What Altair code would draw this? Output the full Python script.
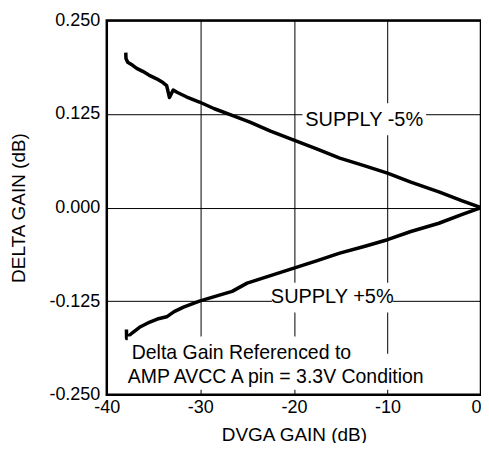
import altair as alt
import pandas as pd

# SUPPLY -5% trace (upper)
minus5_x = [-37.97, -37.95, -37.76, -37.5, -37.23, -36.8, -36.16, -35.5, -34.67, -34.0, -33.6,
            -33.3, -33.1, -32.9, -32.5, -31.5, -30.1, -28.5, -26.6, -24.7, -22.5, -20.0,
            -17.5, -15.1, -12.5, -10.0, -7.5, -4.5, -2.0, 0.0]
minus5_y = [0.207, 0.199, 0.194, 0.192, 0.190, 0.186, 0.182, 0.177, 0.172, 0.167, 0.163,
            0.147, 0.152, 0.157, 0.154, 0.148, 0.141, 0.132, 0.123, 0.114, 0.102, 0.090,
            0.078, 0.066, 0.056, 0.046, 0.034, 0.021, 0.009, 0.0]

# SUPPLY +5% trace (lower)
plus5_x = [-37.9, -37.88, -37.6, -37.23, -36.5, -35.4, -34.6, -33.6, -32.8, -31.8, -30.1,
           -28.5, -26.6, -25.0, -22.5, -20.0, -17.5, -15.1, -12.5, -10.0, -7.5, -4.5, -2.0, 0.0]
plus5_y = [-0.163, -0.175, -0.171, -0.167, -0.160, -0.153, -0.149, -0.146, -0.139, -0.133, -0.125,
           -0.119, -0.112, -0.101, -0.091, -0.081, -0.071, -0.061, -0.052, -0.043, -0.032, -0.021, -0.009, 0.0]

x_ticks = [-40, -30, -20, -10, 0]
y_ticks = [-0.25, -0.125, 0.0, 0.125, 0.25]

supply_labels = ["SUPPLY -5%", "SUPPLY +5%"]
supply_x = [-12.48, -15.9]
supply_y = [0.1167, -0.119]

note_lines = ["Delta Gain Referenced to", "AMP AVCC A pin = 3.3V Condition"]
note_x = [-37.33, -37.76]
note_y = [-0.195, -0.226]

FONT = "Arial, Liberation Sans, Helvetica, sans-serif"

rows = []
for i, (xv, yv) in enumerate(zip(minus5_x, minus5_y)):
    rows.append({"series": "minus5", "i": i, "gain": xv, "delta": yv})
for i, (xv, yv) in enumerate(zip(plus5_x, plus5_y)):
    rows.append({"series": "plus5", "i": i, "gain": xv, "delta": yv})
df = pd.DataFrame(rows)

lab_df = pd.DataFrame({"text": supply_labels, "x": supply_x, "y": supply_y})
note_df = pd.DataFrame({"text": note_lines, "x": note_x, "y": note_y})

xs = alt.Scale(domain=[-40, 0], nice=False, zero=False, padding=0)
ys = alt.Scale(domain=[-0.25, 0.25], nice=False, zero=False, padding=0)

x_axis = alt.Axis(values=x_ticks, format="d", labelExpr="replace(datum.label, '\u2212', '-')",
                  title="DVGA GAIN (dB)", grid=True, domain=False, ticks=False,
                  labelFlush=False, labelPadding=4, labelFontSize=18, titleFontSize=19,
                  labelAlign={"expr": "datum.value == 0 ? 'right' : 'center'"},
                  titleY=46, titleBaseline="alphabetic")
y_axis = alt.Axis(values=y_ticks, format=".3f", labelExpr="replace(datum.label, '\u2212', '-')",
                  title="DELTA GAIN (dB)", grid=True, domain=False, ticks=False,
                  labelFlush=False, labelPadding=7, labelFontSize=18, titleFontSize=19,
                  titleX=-82, titleY=187.5, titleBaseline="alphabetic")

lines = alt.Chart(df).mark_line(color="black", strokeWidth=3.5, strokeJoin="round").encode(
    x=alt.X("gain:Q", scale=xs, axis=x_axis),
    y=alt.Y("delta:Q", scale=ys, axis=y_axis),
    detail="series:N",
    order="i:Q",
)

def box(d, w, h, xo=0, yo=0):
    return alt.Chart(d).mark_rect(color="white", width=w, height=h, xOffset=xo, yOffset=yo).encode(
        x=alt.X("x:Q", scale=xs), y=alt.Y("y:Q", scale=ys))

box1 = box(lab_df.iloc[[0]], 124, 32, 0, -1)
box2 = box(lab_df.iloc[[1]], 121, 30, 0, 1)
box3 = box(note_df.iloc[[0]], 224, 28, 108, -3)
box4 = box(note_df.iloc[[1]], 306, 36, 150, -5)

lab_text = alt.Chart(lab_df).mark_text(fontSize=20, font=FONT, color="black",
                                       align="center", baseline="middle").encode(
    x=alt.X("x:Q", scale=xs), y=alt.Y("y:Q", scale=ys), text="text:N")
note_text = alt.Chart(note_df).mark_text(fontSize=19.5, font=FONT, color="black",
                                         align="left", baseline="middle").encode(
    x=alt.X("x:Q", scale=xs), y=alt.Y("y:Q", scale=ys), text="text:N")

chart = alt.layer(lines, box1, box2, box3, box4, lab_text, note_text).properties(
    width=375, height=375,
    background="white",
    autosize=alt.AutoSizeParams(type="none"),
    padding={"left": 99, "top": 12, "right": 0, "bottom": 48},
).configure_view(
    stroke="black", strokeWidth=2.5
).configure_axis(
    gridColor="black", gridWidth=1, gridOpacity=1,
    labelColor="black", titleColor="black",
    labelFont=FONT, titleFont=FONT, titleFontWeight="normal",
)

chart.save("out.html", embed_options={"renderer": "svg", "actions": False})
